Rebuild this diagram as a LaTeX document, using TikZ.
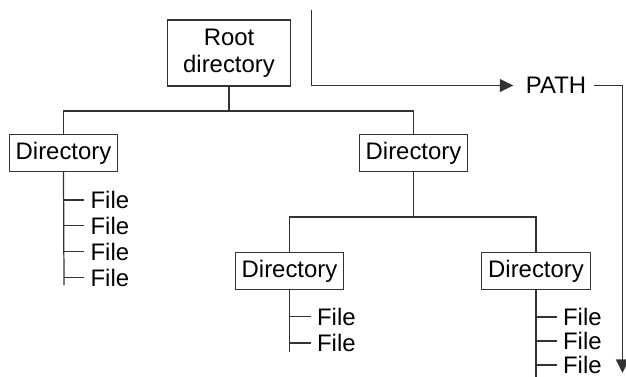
\documentclass[tikz,border=0pt]{standalone}
\usepackage{fontspec}
\setmainfont{Liberation Sans}
\usetikzlibrary{arrows.meta}

\begin{document}
\begin{tikzpicture}[
	font=\fontsize{13.6}{15.3}\selectfont,
	every path/.style={line width=0.7pt,black!80},
	dirbox/.style={draw,black!80,text=black,inner xsep=0.13cm,minimum height=0.73cm},
	filename/.style={anchor=west,text=black,inner xsep=0.12cm,inner ysep=1pt},
	patharrow/.style={-{Triangle[length=0.27cm,width=0.26cm]}}
	]

	\useasboundingbox (0,0) rectangle (12.52,7.54);

	\node[dirbox,align=center,minimum width=2.46cm,minimum height=1.32cm] (root) at (4.58,6.48) {Root\\directory};

	\node[dirbox] (dirL) at (1.27,4.48) {Directory};
	\node[dirbox] (dirR) at (8.27,4.48) {Directory};
	\node[dirbox] (dirM) at (5.79,2.12) {Directory};
	\node[dirbox] (dirD) at (10.72,2.12) {Directory};

	\coordinate (joinA) at (4.58,5.32);
	\draw (root.south) -- (joinA);
	\draw (dirL.north) |- (joinA) -| (dirR.north);

	\coordinate (joinB) at (8.27,3.2);
	\draw (dirR.south) -- (joinB);
	\draw (dirM.north) |- (joinB) -| (dirD.north);

	\node[filename] (fL1) at (1.68,3.54) {File};
	\node[filename] (fL2) at (1.68,3.03) {File};
	\node[filename] (fL3) at (1.68,2.51) {File};
	\node[filename] (fL4) at (1.68,1.99) {File};
	\coordinate (endL) at (1.28,1.84);
	\draw (dirL.south) -- (endL);
	\draw (fL1.west) -- (fL1.west -| endL);
	\draw (fL2.west) -- (fL2.west -| endL);
	\draw (fL3.west) -- (fL3.west -| endL);
	\draw (fL4.west) -- (fL4.west -| endL);

	\node[filename] (fM1) at (6.21,1.21) {File};
	\node[filename] (fM2) at (6.21,0.68) {File};
	\coordinate (endM) at (5.79,0.5);
	\draw (dirM.south) -- (endM);
	\draw (fM1.west) -- (fM1.west -| endM);
	\draw (fM2.west) -- (fM2.west -| endM);

	\node[filename] (fD1) at (11.13,1.2) {File};
	\node[filename] (fD2) at (11.13,0.72) {File};
	\node[filename] (fD3) at (11.13,0.24) {File};
	\coordinate (endD) at (10.72,-0.1);
	\draw (dirD.south) -- (endD);
	\draw (fD1.west) -- (fD1.west -| endD);
	\draw (fD2.west) -- (fD2.west -| endD);
	\draw (fD3.west) -- (fD3.west -| endD);

	\coordinate (pathtop) at (6.23,7.34);
	\coordinate (pathend) at (12.45,0.08);
	\node[text=black,inner xsep=0.15cm] (path) at (11.12,5.83) {PATH};
	\draw[patharrow] (pathtop) |- ([xshift=-0.09cm]path.west);
	\draw[patharrow] (path.east) -| (pathend);

\end{tikzpicture}
\end{document}
